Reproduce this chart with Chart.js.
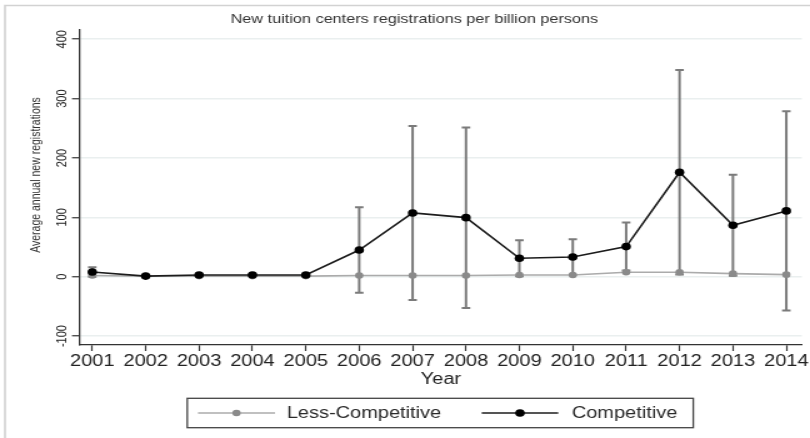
<!DOCTYPE html>
<html>
<head>
<meta charset="utf-8">
<script src="https://cdn.jsdelivr.net/npm/chart.js@4/dist/chart.umd.min.js"></script>
<style>
  html, body { margin: 0; padding: 0; background: #fff; overflow: hidden; width: 810px; height: 438px; }
  /* the figure is laid out narrow and widened horizontally */
  #wrap { width: 648px; height: 438px; transform: scaleX(1.25); transform-origin: 0 0; }
  canvas { display: block; }
</style>
</head>
<body>
<div id="wrap"><canvas id="c" width="648" height="438"></canvas></div>
<script>
// Years on the horizontal axis
const years = [2001, 2002, 2003, 2004, 2005, 2006, 2007, 2008, 2009, 2010, 2011, 2012, 2013, 2014];
// Average annual new registrations per billion persons
const lessCompetitive = [2, 1, 1, 1, 1, 2, 2, 2, 3, 3, 7.6, 7.6, 5.2, 3.5];
const competitive = [8, 1, 3, 3, 3, 45, 107.4, 99.5, 31.1, 33.3, 50.7, 175.9, 86.7, 110.8];
// Half-width of the interval drawn around each competitive point
const competitiveErr = [8, 2, 2, 2, 2, 72, 146.5, 152, 30.3, 29.8, 40.4, 172.2, 85.2, 167.8];
const yTicks = [-100, 0, 100, 200, 300, 400];
const seriesNames = ['Less-Competitive', 'Competitive'];
const titleText = 'New tuition centers registrations per billion persons';
const yTitleText = 'Average annual new registrations';
const xTitleText = 'Year';

const FONT = '"Liberation Sans", Arial, Helvetica, sans-serif';
Chart.defaults.font.family = FONT;

const GREY_LINE = '#ababab';
const GREY_POINT = '#8a8a8a';
const BLACK_LINE = '#1c1c1c';
const BLACK_POINT = '#000000';

// Interval bars for the competitive series
const errorBars = {
  id: 'errorBars',
  beforeDatasetsDraw(chart) {
    const { ctx, scales: { x, y } } = chart;
    ctx.save();
    ctx.strokeStyle = '#7b7b7b';
    ctx.lineWidth = 2;
    competitive.forEach((v, i) => {
      const e = competitiveErr[i];
      const px = x.getPixelForValue(years[i]);
      const top = y.getPixelForValue(v + e);
      const bot = y.getPixelForValue(v - e);
      ctx.beginPath();
      ctx.moveTo(px, top); ctx.lineTo(px, bot);
      ctx.moveTo(px - 3.4, top); ctx.lineTo(px + 3.4, top);
      ctx.moveTo(px - 3.4, bot); ctx.lineTo(px + 3.4, bot);
      ctx.stroke();
    });
    ctx.restore();
  }
};

// Frame, heading, vertical axis caption and the boxed key
const decor = {
  id: 'decor',
  beforeDraw(chart) {
    const { ctx, width, height } = chart;
    ctx.save();
    ctx.fillStyle = '#fff';
    ctx.fillRect(0, 0, width, height);
    ctx.strokeStyle = '#d2d2d2';
    ctx.lineWidth = 1.6;
    ctx.beginPath();
    ctx.moveTo(4, height); ctx.lineTo(4, 5.5); ctx.lineTo(width, 5.5);
    ctx.stroke();
    ctx.restore();
  },
  afterDraw(chart) {
    const { ctx } = chart;
    ctx.save();
    // heading
    ctx.fillStyle = '#333';
    ctx.font = '13px ' + FONT;
    ctx.textAlign = 'center';
    ctx.textBaseline = 'middle';
    ctx.fillText(titleText, 331.5, 19);
    // vertical axis caption
    ctx.save();
    ctx.translate(29.6, 175);
    ctx.rotate(-Math.PI / 2);
    ctx.font = '10.5px ' + FONT;
    ctx.fillStyle = '#333';
    ctx.fillText(yTitleText, 0, 0);
    ctx.restore();
    // key
    const bx = 149.8, by = 398.3, bw = 404.8, bh = 29.4, cy = 413;
    ctx.strokeStyle = '#444';
    ctx.lineWidth = 1.3;
    ctx.strokeRect(bx, by, bw, bh);
    const items = [
      { name: seriesNames[0], line: GREY_LINE, point: GREY_POINT, r: 3.3, x0: 158.4, x1: 220, tx: 229.4 },
      { name: seriesNames[1], line: BLACK_LINE, point: BLACK_POINT, r: 3.8, x0: 385.4, x1: 446.6, tx: 457.4 }
    ];
    items.forEach(it => {
      ctx.strokeStyle = it.line;
      ctx.lineWidth = 1.6;
      ctx.beginPath(); ctx.moveTo(it.x0, cy); ctx.lineTo(it.x1, cy); ctx.stroke();
      ctx.fillStyle = it.point;
      ctx.beginPath(); ctx.arc((it.x0 + it.x1) / 2, cy, it.r, 0, Math.PI * 2); ctx.fill();
      ctx.fillStyle = '#2a2a2a';
      ctx.font = '16px ' + FONT;
      ctx.textAlign = 'left';
      ctx.textBaseline = 'middle';
      ctx.fillText(it.name, it.tx, cy + 0.5);
    });
    ctx.restore();
  }
};

new Chart(document.getElementById('c'), {
  type: 'line',
  data: {
    datasets: [
      {
        label: seriesNames[0],
        data: years.map((yr, i) => ({ x: yr, y: lessCompetitive[i] })),
        borderColor: GREY_LINE,
        borderWidth: 1.6,
        pointBackgroundColor: GREY_POINT,
        pointBorderColor: GREY_POINT,
        pointBorderWidth: 0,
        pointRadius: 3.3,
        tension: 0,
        order: 1
      },
      {
        label: seriesNames[1],
        data: years.map((yr, i) => ({ x: yr, y: competitive[i] })),
        borderColor: BLACK_LINE,
        borderWidth: 1.6,
        pointBackgroundColor: BLACK_POINT,
        pointBorderColor: BLACK_POINT,
        pointBorderWidth: 0,
        pointRadius: 3.8,
        tension: 0,
        order: 0
      }
    ]
  },
  options: {
    responsive: false,
    animation: false,
    devicePixelRatio: 1,
    layout: { padding: { left: 0, top: 30, right: 6.4, bottom: 0 } },
    plugins: { legend: { display: false }, tooltip: { enabled: false }, title: { display: false } },
    scales: {
      x: {
        type: 'linear',
        min: 2000.77,
        max: 2014.29,
        afterBuildTicks: s => { s.ticks = years.map(v => ({ value: v })); },
        afterFit: s => { s.height = 93; },
        ticks: {
          callback: v => String(v),
          font: { size: 16 },
          color: '#222',
          padding: 1,
          maxRotation: 0,
          minRotation: 0,
          autoSkip: false
        },
        grid: { drawOnChartArea: false, drawTicks: true, tickLength: 6, tickColor: '#333', tickWidth: 1.2 },
        border: { color: '#333', width: 1.3 },
        title: { display: true, text: xTitleText, font: { size: 16 }, color: '#222', padding: { top: 0, bottom: 48.4 } }
      },
      y: {
        min: -115,
        max: 415.5,
        afterBuildTicks: s => { s.ticks = yTicks.map(v => ({ value: v })); },
        afterFit: s => { s.width = 64; },
        ticks: {
          font: { size: 11 },
          color: '#222',
          minRotation: 90,
          maxRotation: 90,
          crossAlign: 'center',
          padding: -3.6
        },
        grid: { color: '#eaefef', lineWidth: 1.5, tickLength: 6.4, tickColor: '#333', tickWidth: 1.2 },
        border: { color: '#333', width: 1.3 }
      }
    }
  },
  plugins: [errorBars, decor]
});
</script>
</body>
</html>
